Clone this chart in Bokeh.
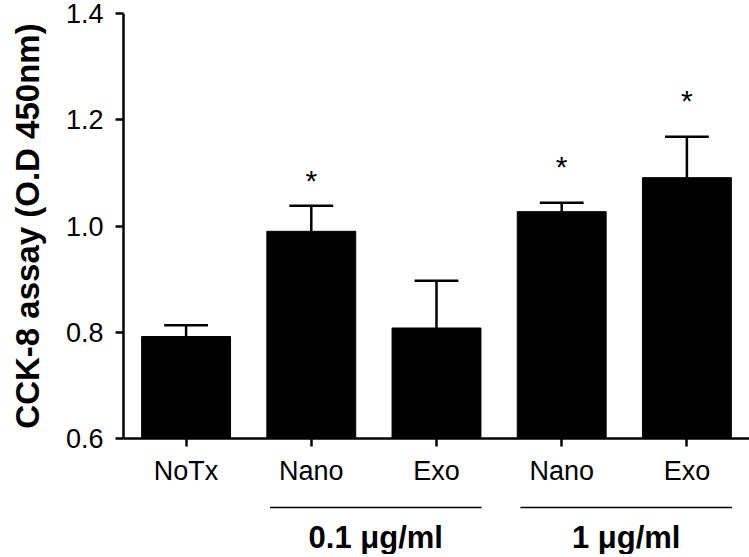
from bokeh.plotting import figure
from bokeh.models import Range1d, FixedTicker, PrintfTickFormatter, ColumnDataSource
from bokeh.layouts import column
from bokeh.core.properties import value
from bokeh.embed import file_html
from bokeh.resources import INLINE

# ---- data ----
categories = ["NoTx", "Nano", "Exo", "Nano", "Exo"]
means = [0.792, 0.990, 0.808, 1.027, 1.091]
sds = [0.021, 0.048, 0.089, 0.017, 0.077]
star_bars = [1, 3, 4]
star_y = [1.093, 1.120, 1.244]
group_labels = ["0.1 \u03bcg/ml", "1 \u03bcg/ml"]
group_members = [[1, 2], [3, 4]]
y_ticks = [0.6, 0.8, 1.0, 1.2, 1.4]

FONT = "Liberation Sans"
xs = list(range(len(categories)))
tops = [m + s for m, s in zip(means, sds)]
BAR_W = 0.71
CAP = 0.35

src = ColumnDataSource(dict(x=xs, mean=means, top=tops,
                            cl=[x - CAP / 2 for x in xs], cr=[x + CAP / 2 for x in xs]))

W = 749
LEFT = 123
p = figure(width=W, height=488, output_backend="svg", toolbar_location=None,
           x_range=Range1d(-0.5, -0.5 + (W - LEFT) / 125.2), y_range=Range1d(0.6, 1.4),
           min_border_left=LEFT, min_border_right=0, min_border_top=13, min_border_bottom=0)
p.outline_line_color = None
p.xgrid.visible = False
p.ygrid.visible = False

p.vbar(x="x", top="mean", bottom=0.6, width=BAR_W, source=src,
       fill_color="black", line_color="black")
p.segment(x0="x", y0="mean", x1="x", y1="top", source=src, line_color="black", line_width=2.5)
p.segment(x0="cl", y0="top", x1="cr", y1="top", source=src, line_color="black", line_width=2.5)

p.text(x=star_bars, y=[v - 0.008 for v in star_y], text=["*"] * len(star_bars),
       text_font=value(FONT), text_font_size="30px",
       text_align="center", text_baseline="middle", text_color="black")

# axes
p.xaxis.ticker = FixedTicker(ticks=xs)
p.xaxis.major_label_overrides = {i: c for i, c in enumerate(categories)}
p.yaxis.ticker = FixedTicker(ticks=y_ticks)
p.yaxis.formatter = PrintfTickFormatter(format="%.1f")
for ax in (p.xaxis[0], p.yaxis[0]):
    ax.axis_line_width = 2.5
    ax.major_tick_line_width = 2.5
    ax.major_tick_out = 8
    ax.major_tick_in = 0
    ax.minor_tick_line_color = None
    ax.major_label_text_font = FONT
    ax.major_label_text_color = "black"
    ax.axis_line_color = "black"
    ax.major_tick_line_color = "black"
p.xaxis.major_label_text_font_size = "27px"
p.xaxis.major_label_standoff = 9
p.yaxis.major_label_text_font_size = "27px"
p.yaxis.major_label_standoff = 12
p.yaxis.axis_label = "CCK-8 assay (O.D 450nm)"
p.yaxis.axis_label_text_font = FONT
p.yaxis.axis_label_text_font_style = "bold"
p.yaxis.axis_label_text_font_size = "33px"
p.yaxis.axis_label_text_color = "black"
p.yaxis.axis_label_standoff = 17

# group annotation strip
H2 = 66
q = figure(width=W, height=H2, output_backend="svg", toolbar_location=None,
           x_range=p.x_range, y_range=Range1d(H2, 0),
           min_border_left=LEFT, min_border_right=0, min_border_top=0, min_border_bottom=0)
q.axis.visible = False
q.grid.visible = False
q.outline_line_color = None
gx0 = [g[0] - 0.33 for g in group_members]
gx1 = [g[-1] + 0.36 for g in group_members]
q.segment(x0=gx0, y0=[19] * 2, x1=gx1, y1=[19] * 2, line_color="black", line_width=1.5)
gc = [(a + b) / 2 for a, b in zip(gx0, gx1)]
q.text(x=gc, y=[49] * 2, text=group_labels, text_font=value(FONT), text_font_style="bold",
       text_font_size="31px", text_align="center", text_baseline="middle", text_color="black")

layout = column(p, q, spacing=0)
open("out.html", "w").write(file_html(layout, INLINE))
